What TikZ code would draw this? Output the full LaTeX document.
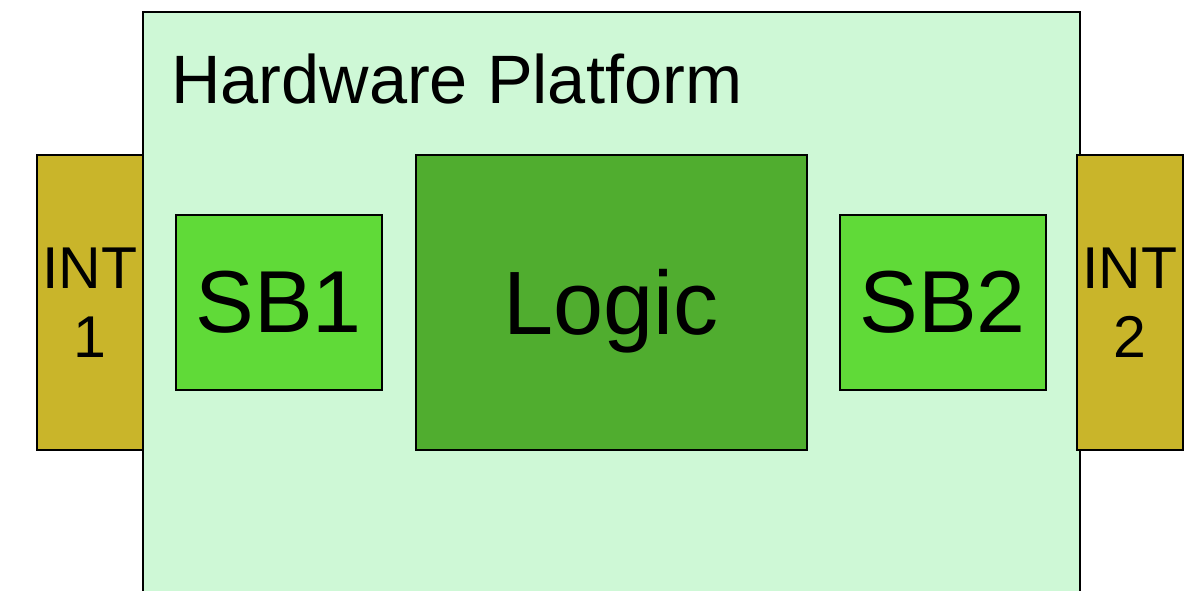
\documentclass[tikz,border=0pt]{standalone}
\usepackage{fontspec}
\setmainfont{Liberation Sans}
\definecolor{platformfill}{HTML}{CEF8D6}
\definecolor{intfill}{HTML}{C9B52A}
\definecolor{sbfill}{HTML}{60DA38}
\definecolor{logicfill}{HTML}{50AD2F}
\tikzset{
  block/.style={draw=black, line width=2.5pt, inner sep=0pt, anchor=north west},
  intbox/.style={block, fill=intfill, minimum width=106pt, minimum height=295pt,
    align=center, text depth=0pt, font=\fontsize{59}{69}\selectfont},
  sbbox/.style={block, fill=sbfill, minimum width=206pt, minimum height=175pt,
    text depth=0pt, font=\fontsize{88}{100}\selectfont},
}
\begin{document}
\begin{tikzpicture}[x=1pt, y=-1pt]
\useasboundingbox (0,0) rectangle (1189,590);
\clip (0,0) rectangle (1189,590);
% platform body, running past the lower edge
\node[block, fill=platformfill, minimum width=937pt, minimum height=640pt] (platform) at (141.5,10.5) {};
\node[anchor=base west, inner sep=0pt, font=\fontsize{68.5}{80}\selectfont] (title) at (171,103) {Hardware Platform};
% interfaces on both sides
\node[intbox] (int1) at (35.5,153.5) {INT\\1};
\node[intbox] (int2) at (1075.5,153.5) {INT\\2};
% internal blocks
\node[sbbox] (sb1) at (174.5,213.5) {SB1};
\node[block, fill=logicfill, minimum width=391pt, minimum height=295pt,
  text depth=0pt, font=\fontsize{90}{100}\selectfont] (logic) at (414.5,153.5) {Logic};
\node[sbbox] (sb2) at (838.5,213.5) {SB2};
\end{tikzpicture}
\end{document}
